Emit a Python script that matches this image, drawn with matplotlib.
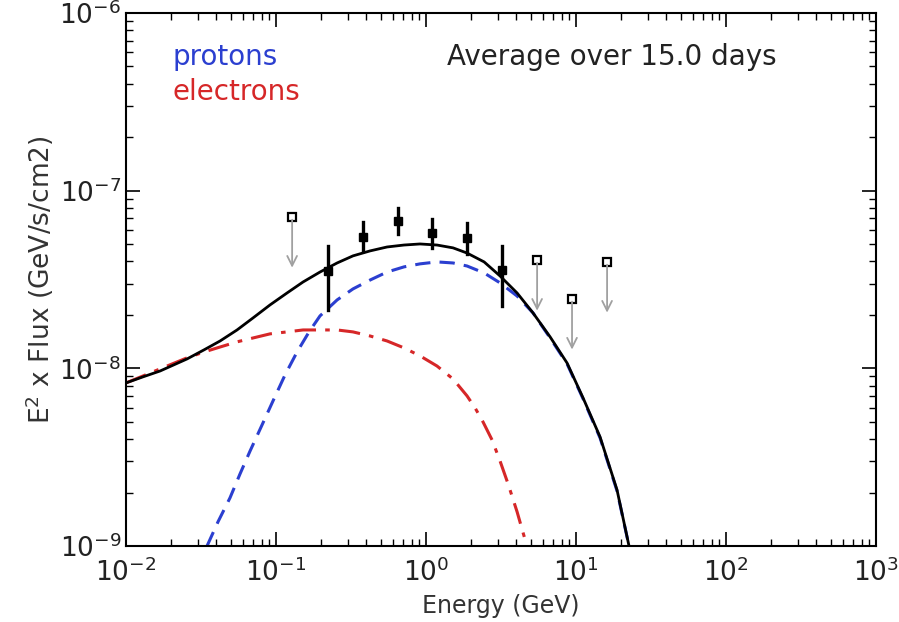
import matplotlib
matplotlib.use('Agg')
import matplotlib.pyplot as plt
import numpy as np

# model curves, as log10(energy / GeV) and log10(E^2 x flux)
total_le = [-2.0, -1.887, -1.773, -1.593, -1.48, -1.373, -1.26, -1.153, -1.04, -0.927,
            -0.82, -0.707, -0.593, -0.487, -0.373, -0.26, -0.147, -0.04, 0.073, 0.18,
            0.273, 0.387, 0.493, 0.607, 0.713, 0.827, 0.94, 1.047, 1.16, 1.273, 1.353]
total_lf = [-8.082, -8.048, -8.015, -7.947, -7.896, -7.846, -7.784, -7.716, -7.643, -7.576,
            -7.514, -7.458, -7.407, -7.367, -7.339, -7.317, -7.306, -7.300, -7.306, -7.322,
            -7.351, -7.401, -7.480, -7.576, -7.688, -7.823, -7.970, -8.167, -8.386, -8.684, -9.0]

proton_le = [-1.46, -1.387, -1.307, -1.24, -1.173, -1.093, -1.02, -0.94, -0.86, -0.78,
             -0.707, -0.593, -0.487, -0.373, -0.26, -0.147, -0.04, 0.073, 0.18, 0.273,
             0.387, 0.493, 0.607, 0.713, 0.827, 0.94, 1.047, 1.16, 1.273, 1.353]
proton_lf = [-9.0, -8.864, -8.729, -8.594, -8.465, -8.318, -8.183, -8.037, -7.908, -7.795,
             -7.705, -7.615, -7.553, -7.503, -7.458, -7.429, -7.412, -7.401, -7.407, -7.424,
             -7.463, -7.519, -7.593, -7.688, -7.829, -7.975, -8.172, -8.392, -8.690, -9.0]

electron_le = [-2.0, -1.887, -1.773, -1.593, -1.48, -1.373, -1.26, -1.153, -1.04, -0.927,
               -0.82, -0.707, -0.593, -0.487, -0.373, -0.26, -0.147, -0.04, 0.073, 0.18,
               0.273, 0.327, 0.38, 0.44, 0.493, 0.547, 0.607, 0.647, 0.673]
electron_lf = [-8.082, -8.043, -8.003, -7.941, -7.908, -7.880, -7.851, -7.829, -7.806, -7.795,
               -7.784, -7.784, -7.784, -7.795, -7.818, -7.846, -7.885, -7.930, -7.987, -8.060,
               -8.155, -8.223, -8.302, -8.403, -8.521, -8.651, -8.808, -8.926, -9.0]

# detections with error bars
det_e = [0.222, 0.380, 0.650, 1.10, 1.88, 3.21]
det_f = [3.53e-8, 5.48e-8, 6.75e-8, 5.78e-8, 5.42e-8, 3.58e-8]
det_hi = [4.89e-8, 6.67e-8, 8.0e-8, 6.93e-8, 6.58e-8, 4.89e-8]
det_lo = [2.13e-8, 4.58e-8, 5.7e-8, 4.77e-8, 4.41e-8, 2.24e-8]

# upper limits
ul_e = [0.128, 5.50, 9.40, 16.1]
ul_f = [7.11e-8, 4.07e-8, 2.46e-8, 3.97e-8]

blue = '#2b3fd0'
red = '#d62728'

fig = plt.figure(figsize=(8.99, 6.22), dpi=100)
ax = fig.add_axes([0.1402, 0.1222, 0.8343, 0.8569])
ax.set_xscale('log')
ax.set_yscale('log')
ax.set_xlim(1e-2, 1e3)
ax.set_ylim(1e-9, 1e-6)

ax.plot(np.power(10.0, electron_le), np.power(10.0, electron_lf), color=red, lw=2.2,
        dashes=(7, 3, 1.5, 3))
ax.plot(np.power(10.0, proton_le), np.power(10.0, proton_lf), color=blue, lw=2.2,
        dashes=(5, 3))
ax.plot(np.power(10.0, total_le), np.power(10.0, total_lf), color='black', lw=2.0)

for e, hi, lo in zip(det_e, det_hi, det_lo):
    ax.plot([e, e], [lo, hi], color='black', lw=2.4)
ax.plot(det_e, det_f, 's', color='black', ms=6)

for e, f in zip(ul_e, ul_f):
    ax.annotate('', xy=(e, f * 0.5), xytext=(e, f),
                arrowprops=dict(arrowstyle='->,head_width=0.35,head_length=0.7',
                                color='#a0a0a0', lw=1.3))
ax.plot(ul_e, ul_f, 's', mfc='white', mec='black', mew=1.6, ms=6)

ax.tick_params(which='both', direction='in', top=True, right=True, labelsize=19,
               labelcolor='#222222')
ax.tick_params(which='major', length=10, width=1.2)
ax.tick_params(which='minor', length=5, width=1.0)
ax.tick_params(axis='x', pad=9)
for s in ax.spines.values():
    s.set_linewidth(1.5)

ax.set_xlabel('Energy (GeV)', fontsize=17, color='#333333', labelpad=5)
ax.set_ylabel(r'E$^2$ x Flux (GeV/s/cm2)', fontsize=19, color='#333333', labelpad=2)

ax.text(0.062, 0.917, 'protons', transform=ax.transAxes, fontsize=20, color=blue,
        va='center')
ax.text(0.062, 0.852, 'electrons', transform=ax.transAxes, fontsize=20, color=red,
        va='center')
ax.text(0.428, 0.917, 'Average over 15.0 days', transform=ax.transAxes, fontsize=20,
        color='#222222', va='center')

fig.savefig('out.png', dpi=100)
